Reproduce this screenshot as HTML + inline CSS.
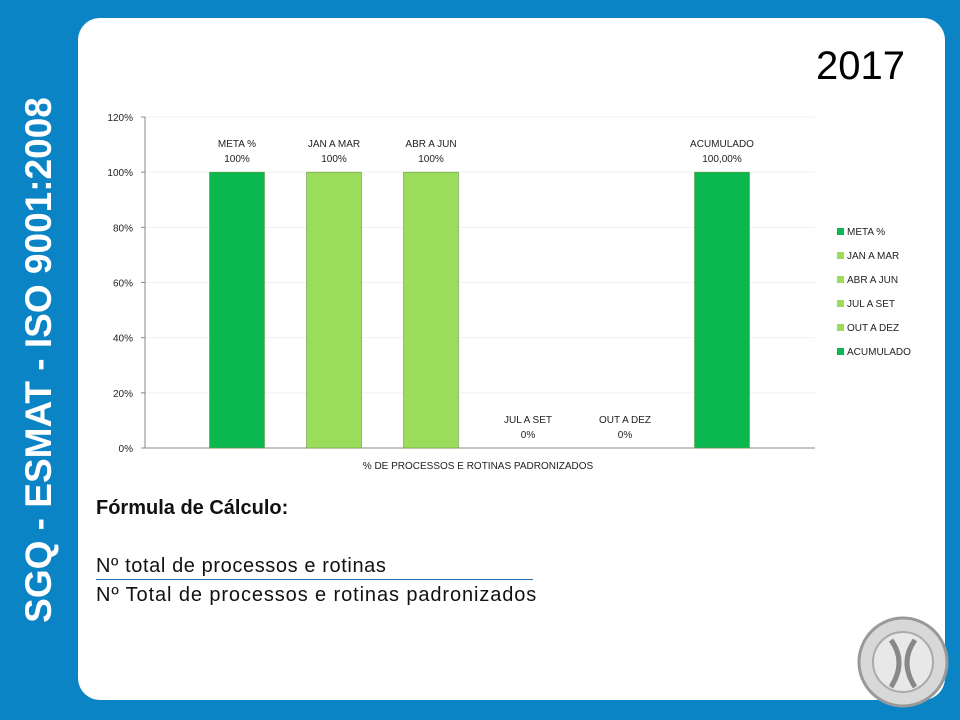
<!DOCTYPE html>
<html><head><meta charset="utf-8"><style>
body{margin:0;width:960px;height:720px;background:#0b84c6;position:relative;overflow:hidden;font-family:"Liberation Sans",sans-serif}
#panel{position:absolute;left:78px;top:18px;width:867px;height:682px;background:#fff;border-radius:22px}
#side{position:absolute;left:39px;top:360px;transform:translate(-50%,-50%) rotate(-90deg);color:#fff;font-weight:bold;font-size:37px;white-space:nowrap}
#year{position:absolute;left:816px;top:44px;font-size:40px;color:#000}
.f{position:absolute;left:96px;font-family:"Liberation Sans","DejaVu Sans",sans-serif;font-size:20px;color:#111}
</style></head><body>
<div id="panel"></div>
<div id="side">SGQ - ESMAT - ISO 9001:2008</div>
<div id="year">2017</div>
<svg id="chart" width="960" height="720" style="position:absolute;left:0;top:0" font-family="Liberation Sans, sans-serif"></svg>
<div class="f" style="top:497px;font-weight:bold">Fórmula de Cálculo:</div>
<div class="f" style="top:555px;letter-spacing:0.6px">Nº total de processos e rotinas</div>
<div style="position:absolute;left:96px;top:579px;width:437px;height:1px;background:#2a6fb8"></div>
<div class="f" style="top:584px;letter-spacing:0.9px">Nº Total de processos e rotinas padronizados</div>
<svg width="100" height="100" style="position:absolute;left:855px;top:615px">
<circle cx="48" cy="47" r="44" fill="#d8d8d8" stroke="#999" stroke-width="3"/>
<circle cx="48" cy="47" r="30" fill="#e8e8e8" stroke="#aaa" stroke-width="2"/>
<path d="M36 25 Q52 47 36 72 M60 25 Q44 47 60 72" stroke="#888" stroke-width="5" fill="none"/>
</svg>
<script>
const categories=["META %","JAN A MAR","ABR A JUN","JUL A SET","OUT A DEZ","ACUMULADO"];
const values=[100,100,100,0,0,100];
const valueLabels=["100%","100%","100%","0%","0%","100,00%"];
const colors=["#0ab84f","#9bdc5a","#9bdc5a","#9bdc5a","#9bdc5a","#0ab84f"];
const yTicks=[0,20,40,60,80,100,120];
const svg=document.getElementById('chart');const NS='http://www.w3.org/2000/svg';
const x0=145,x1=815,y0=448,y1=117;
const catStart=188.5,catEnd=770.5;
const y=v=>y0-(v/120)*(y0-y1);
const step=(catEnd-catStart)/categories.length;
const xc=i=>catStart+step*(i+0.5);
function mk(t,a,txt){const e=document.createElementNS(NS,t);for(const k in a)e.setAttribute(k,a[k]);if(txt!=null)e.textContent=txt;svg.appendChild(e);return e;}
yTicks.forEach(t=>{
 const g=mk('line',{x1:x0,x2:x1,y1:y(t),y2:y(t),stroke:t?'#f0f0f0':'#888'});
 
 
 mk('line',{x1:x0-4,x2:x0,y1:y(t),y2:y(t),stroke:'#888'});
 const l=mk('text',{x:x0-12,y:y(t)+4,'text-anchor':'end','font-size':10,fill:'#222'},t+'%');
 
 
});
mk('line',{x1:x0,x2:x0,y1:y1,y2:y0,stroke:'#888'});
categories.forEach((c,i)=>{
 const b=mk('rect',{x:xc(i)-27.5,y:y(values[i]),width:55,height:y0-y(values[i]),fill:colors[i],stroke:'#6a9a4a','stroke-width':0.6});
 
 
 const ty=y(values[i]);
 const a=mk('text',{x:xc(i),y:ty-25,'text-anchor':'middle','font-size':10,fill:'#222'},c);
 
 
 const v=mk('text',{x:xc(i),y:ty-10,'text-anchor':'middle','font-size':10,fill:'#222'},valueLabels[i]);
 
 
 const lg=mk('rect',{x:837,y:228+i*24,width:7,height:7,fill:colors[i]});
 
 
 const lt=mk('text',{x:847,y:235+i*24,'font-size':10,fill:'#222'},c);
 
 
});
const xt=mk('text',{x:478,y:469,'text-anchor':'middle','font-size':10,fill:'#222'},'% DE PROCESSOS E ROTINAS PADRONIZADOS');


</script>
</body></html>
